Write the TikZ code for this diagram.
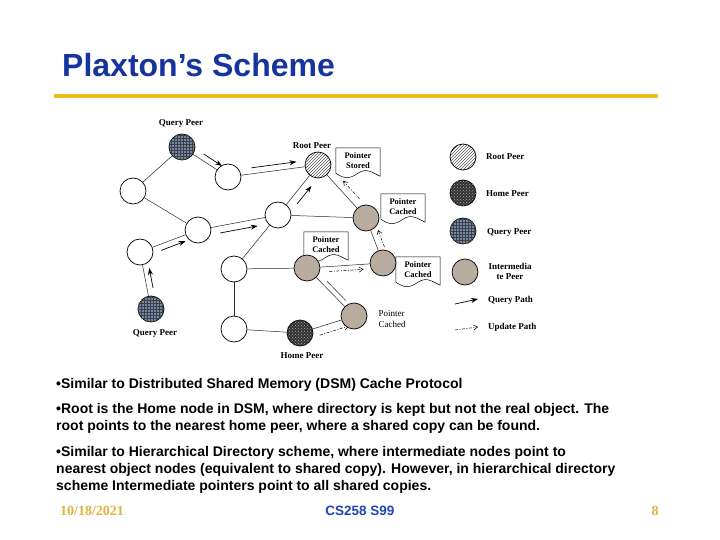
\documentclass[tikz,border=0pt]{standalone}
\usepackage{fontspec}
\setmainfont{Liberation Sans}
\newfontfamily\figfont{Liberation Serif}
\usetikzlibrary{arrows.meta,patterns,calc}
\definecolor{titleblue}{RGB}{22,52,160}
\definecolor{rulegold}{RGB}{240,188,30}
\definecolor{footgold}{RGB}{222,180,60}
\definecolor{footblue}{RGB}{30,70,180}
\definecolor{intergray}{RGB}{183,172,158}
\definecolor{queryblue}{RGB}{112,136,176}
\pgfdeclarelayer{bglayer}
\pgfdeclarelayer{edgelayer}
\pgfdeclarelayer{framelayer}
\pgfsetlayers{bglayer,edgelayer,framelayer,main}
\newcommand\qarrow[5]{\draw[qpath] ($(#1)!#3!(#2)!#5!90:(#2)$) -- ($(#1)!#4!(#2)!#5!-90:(#1)$);}
\newcommand\uarrow[5]{\draw[upath] ($(#1)!#3!(#2)!#5!90:(#2)$) -- ($(#1)!#4!(#2)!#5!-90:(#1)$);}
\newcommand\docframe[1]{\begin{pgfonlayer}{framelayer}\draw[callout] ($(#1.south west)+(0,0)$) -- (#1.north west) -- (#1.north east) -- ($(#1.south east)+(0,3)$) .. controls +(-7,-3) and +(9,-6) .. ($(#1.south)+(0,0)$) .. controls +(-9,6) and +(9,6) .. ($(#1.south west)+(0,0)$) -- cycle;\end{pgfonlayer}}
\begin{document}
\begin{tikzpicture}[x=1pt,y=-1pt,
  peer/.style={circle,draw,line width=0.7pt,minimum size=26pt,inner sep=0pt},
  plain/.style={peer,fill=white},
  inter/.style={peer,fill=intergray},
  rootp/.style={peer,fill=white,pattern=north east lines,pattern color=black!65},
  homep/.style={peer,fill=black!80,postaction={pattern=crosshatch dots,pattern color=black!35}},
  queryp/.style={peer,fill=queryblue,postaction={pattern=grid,pattern color=black!75}},
  edge/.style={line width=0.5pt,black!85},
  qpath/.style={line width=0.7pt,-{Stealth[length=7pt,width=5pt]}},
  upath/.style={line width=0.5pt,dash pattern=on 3pt off 1.5pt on 1pt off 1.5pt,-{Straight Barb[length=4pt,width=5pt]}},
  figlab/.style={font=\figfont\bfseries\fontsize{9}{10}\selectfont,inner sep=0pt,align=center},
  figlabr/.style={font=\figfont\fontsize{9}{11}\selectfont,inner sep=0pt,align=left},
  calltext/.style={font=\figfont\bfseries\fontsize{8.5}{10}\selectfont,align=center,minimum width=44pt,minimum height=25pt,inner xsep=1pt,inner ysep=1pt,yshift=1.5pt},
  callout/.style={line width=0.5pt,fill=white},
  body/.style={font=\bfseries\fontsize{14}{17}\selectfont,anchor=base west,inner sep=0pt}
]
\useasboundingbox (0,0) rectangle (720,540);
\begin{pgfonlayer}{bglayer}
\fill[white] (0,0) rectangle (720,540);
\end{pgfonlayer}
% title
\node[anchor=base west,inner sep=0pt,font=\bfseries\fontsize{32}{38}\selectfont,text=titleblue] (title) at (62,77) {Plaxton’s Scheme};
\draw[rulegold,line width=4pt] (54,96) -- (658,96);
% peers
\node[queryp] (qp1) at (182,147) {};
\node[plain] (a) at (228,177) {};
\node[rootp] (root) at (318,165) {};
\node[plain] (b) at (133,191) {};
\node[plain] (c) at (198,230) {};
\node[plain] (d) at (278,215) {};
\node[plain] (e) at (140,252) {};
\node[queryp] (qp2) at (151,309) {};
\node[plain] (f) at (234,269) {};
\node[plain] (g) at (234,329) {};
\node[homep] (home) at (300,333) {};
\node[inter] (h) at (307,268) {};
\node[inter] (i) at (383,263) {};
\node[inter] (j) at (354,316) {};
\node[inter] (k) at (366,218) {};
% edges
\begin{pgfonlayer}{edgelayer}
\draw[edge] (qp1) -- (a);
\draw[edge] (qp1) -- (b);
\draw[edge] (a) -- (root);
\draw[edge] (b) -- (c);
\draw[edge] (c) -- (d);
\draw[edge] (e) -- (c);
\draw[edge] (qp2) -- (e);
\draw[edge] (d) -- (root);
\draw[edge] (d) -- (k);
\draw[edge] (d) -- (f);
\draw[edge] (f) -- (h);
\draw[edge] (f) -- (g);
\draw[edge] (g) -- (home);
\draw[edge] (home) -- (j);
\draw[edge] (h) -- (i);
\draw[edge] (h) -- (j);
\draw[edge] (i) -- (k);
\draw[edge] (k) -- (root);
% query path arrows
\qarrow{qp1}{a}{0.4}{0.8}{6pt}
\qarrow{a}{root}{0.27}{0.77}{6pt}
\qarrow{e}{c}{0.33}{0.75}{-6pt}
\qarrow{c}{d}{0.26}{0.73}{-7pt}
\qarrow{qp2}{e}{0.35}{0.7}{-6pt}
\qarrow{d}{root}{0.32}{0.68}{-8pt}
\draw[edge] ($(h)!0.35!(j)!5pt!90:(j)$) -- ($(h)!0.75!(j)!5pt!-90:(h)$);
% update path arrows
\uarrow{home}{j}{0.32}{0.86}{-8pt}
\uarrow{h}{i}{0.29}{0.74}{-5pt}
\uarrow{i}{k}{0.3}{0.68}{-7pt}
\uarrow{k}{root}{0.26}{0.6}{-8pt}
\end{pgfonlayer}
% figure labels
\node[figlab] (lq1) at (181,123) {Query Peer};
\node[figlab] (lroot) at (312,146) {Root Peer};
\node[figlab] (lq2) at (155,333) {Query Peer};
\node[figlab] (lhome) at (302,356) {Home Peer};
% callouts
\node[calltext] (ps) at (358,162) {Pointer\\Stored};
\docframe{ps}
\node[calltext] (pc1) at (403,208) {Pointer\\Cached};
\docframe{pc1}
\node[calltext] (pc2) at (326,246) {Pointer\\Cached};
\docframe{pc2}
\node[calltext] (pc3) at (418,271) {Pointer\\Cached};
\docframe{pc3}
\node[figlabr] (pc4) at (392,319) {Pointer\\Cached};
% legend
\node[rootp] (lgroot) at (463,157) {};
\node[homep] (lghome) at (463,193) {};
\node[queryp] (lgquery) at (463,231) {};
\node[inter] (lginter) at (465,272) {};
\node[figlab,anchor=west] (tgroot) at (486,157) {Root Peer};
\node[figlab,anchor=west] (tghome) at (486,194) {Home Peer};
\node[figlab,anchor=west] (tgquery) at (487,232) {Query Peer};
\node[figlab] (tginter) at (510,271) {Intermedia\\te Peer};
\coordinate (qs) at (455,304);
\coordinate (qe) at (478,299);
\draw[qpath] (qs) -- (qe);
\node[figlab,anchor=west] (tgqpath) at (488,300) {Query Path};
\coordinate (us) at (455,330);
\coordinate (ue) at (478,327);
\draw[upath] (us) -- (ue);
\node[figlab,anchor=west] (tgupath) at (488,327) {Update Path};
% body text
\node[body] (t1) at (56,388) {•Similar to Distributed Shared Memory (DSM) Cache Protocol};
\node[body] (t2a) at (56,413) {•Root is the Home node in DSM, where directory is kept but not the real object. The};
\node[body] (t2b) at (56,430) {root points to the nearest home peer, where a shared copy can be found.};
\node[body] (t3a) at (56,456) {•Similar to Hierarchical Directory scheme, where intermediate nodes point to};
\node[body] (t3b) at (56,473) {nearest object nodes (equivalent to shared copy). However, in hierarchical directory};
\node[body] (t3c) at (56,490) {scheme Intermediate pointers point to all shared copies.};
% footer
\node[anchor=base west,inner sep=0pt,font=\figfont\bfseries\fontsize{14}{16}\selectfont,text=footgold] (date) at (60,515) {10/18/2021};
\node[anchor=base,inner sep=0pt,font=\bfseries\fontsize{13.5}{16}\selectfont,text=footblue] (course) at (360,515) {CS258 S99};
\node[anchor=base,inner sep=0pt,font=\figfont\bfseries\fontsize{14}{16}\selectfont,text=footgold] (page) at (655,515) {8};
\end{tikzpicture}
\end{document}
